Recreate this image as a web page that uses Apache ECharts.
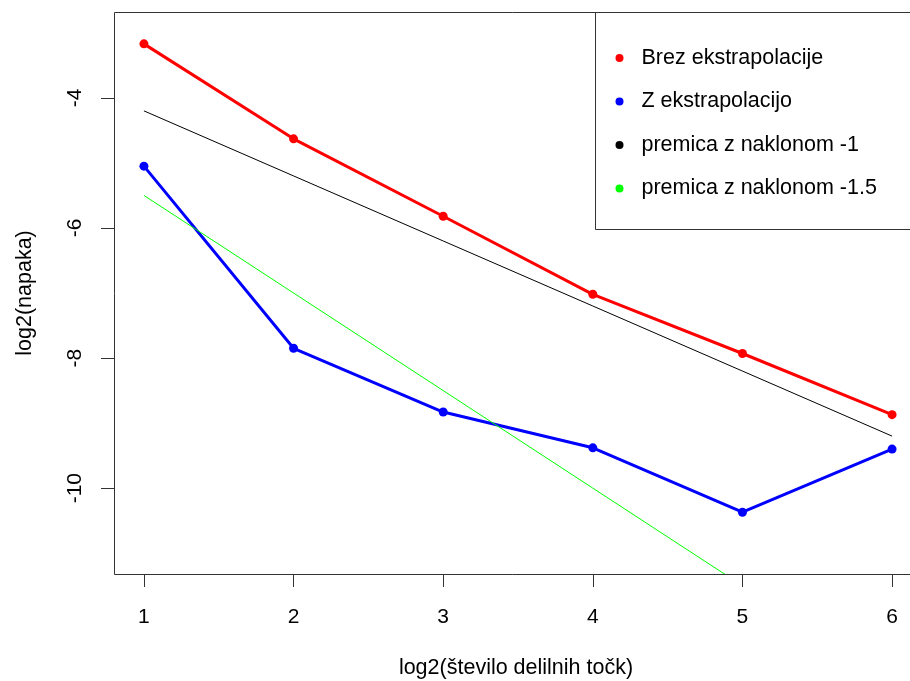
<!DOCTYPE html>
<html>
<head>
<meta charset="utf-8">
<script src="https://cdn.jsdelivr.net/npm/echarts@6/dist/echarts.min.js"></script>
<style>
html,body{margin:0;padding:0;overflow:hidden;background:#fff;}
#c{width:910px;height:681px;}
</style>
</head>
<body>
<div id="c"></div>
<script>
var xValues = [1, 2, 3, 4, 5, 6];
var brezEkstrapolacije = [-3.17, -4.63, -5.82, -7.02, -7.93, -8.87];
var zEkstrapolacijo = [-5.05, -7.85, -8.83, -9.38, -10.37, -9.40];
var premica1 = [-4.2, -5.2, -6.2, -7.2, -8.2, -9.2];
var premica15 = [-5.5, -7.0, -8.5, -10.0, -11.5, -13.0];
var xTicks = [1, 2, 3, 4, 5, 6];
var yTicks = [-10, -8, -6, -4];
var seriesNames = ['Brez ekstrapolacije', 'Z ekstrapolacijo', 'premica z naklonom -1', 'premica z naklonom -1.5'];

function pairs(ys) { return xValues.map(function (x, i) { return [x, ys[i]]; }); }

var FONT = "'Liberation Sans', Arial, sans-serif";
var AX = '#333';

var chart = echarts.init(document.getElementById('c'), null, {renderer: 'canvas', width: 910, height: 681});
chart.setOption({
  animation: false,
  backgroundColor: '#fff',
  textStyle: {fontFamily: FONT},
  grid: {left: 114, top: 12, width: 808, height: 562, show: false,
         containLabel: false, outerBoundsMode: 'none'},
  xAxis: {
    type: 'value', min: 0.8, max: 6.2,
    splitLine: {show: false},
    axisLine: {show: false, onZero: false},
    axisTick: {show: true, length: 13, inside: false, customValues: xTicks, lineStyle: {color: AX, width: 1}},
    axisLabel: {customValues: xTicks, margin: 33, fontSize: 21, color: '#000', fontFamily: FONT},
    name: 'log2(število delilnih točk)', nameLocation: 'middle', nameGap: 83,
    nameTextStyle: {fontSize: 21.5, color: '#000', fontFamily: FONT, padding: [0, 4, 0, 0]}
  },
  yAxis: {
    type: 'value', min: -11.32, max: -2.68,
    splitLine: {show: false},
    axisLine: {show: false, onZero: false},
    axisTick: {show: true, length: 13, inside: false, customValues: yTicks, lineStyle: {color: AX, width: 1}},
    axisLabel: {customValues: yTicks, margin: 28, rotate: 90, fontSize: 21, color: '#000', fontFamily: FONT},
    name: 'log2(napaka)', nameLocation: 'middle', nameGap: 78,
    nameTextStyle: {fontSize: 21.5, color: '#000', fontFamily: FONT}
  },
  legend: {
    orient: 'vertical', left: 615.5, top: 47, padding: 0,
    itemWidth: 34, itemHeight: 8, itemGap: 21.5, icon: 'circle',
    selectedMode: false,
    textStyle: {fontSize: 21.5, lineHeight: 22, color: '#000', fontFamily: FONT, padding: 0},
    data: seriesNames
  },
  graphic: [
    {type: 'polyline', z: 100, silent: true,
     shape: {points: [[940, 12.5], [114.5, 12.5], [114.5, 574.5], [940, 574.5]]},
     style: {fill: null, stroke: AX, lineWidth: 1}},
    {type: 'polyline', z: 100, silent: true,
     shape: {points: [[595.5, 12.5], [595.5, 229.5], [940, 229.5]]},
     style: {fill: null, stroke: AX, lineWidth: 1}}
  ],
  series: [
    {name: seriesNames[0], type: 'line', data: pairs(brezEkstrapolacije), symbol: 'circle', symbolSize: 9,
     itemStyle: {color: '#ff0000'}, lineStyle: {color: '#ff0000', width: 3}},
    {name: seriesNames[1], type: 'line', data: pairs(zEkstrapolacijo), symbol: 'circle', symbolSize: 9,
     itemStyle: {color: '#0000ff'}, lineStyle: {color: '#0000ff', width: 3}},
    {name: seriesNames[2], type: 'line', data: pairs(premica1), showSymbol: false, symbol: 'none',
     itemStyle: {color: '#000000'}, lineStyle: {color: '#000000', width: 1}},
    {name: seriesNames[3], type: 'line', data: pairs(premica15), showSymbol: false, symbol: 'none', clip: true,
     itemStyle: {color: '#00ff00'}, lineStyle: {color: '#00ff00', width: 1}}
  ]
});
</script>
</body>
</html>
